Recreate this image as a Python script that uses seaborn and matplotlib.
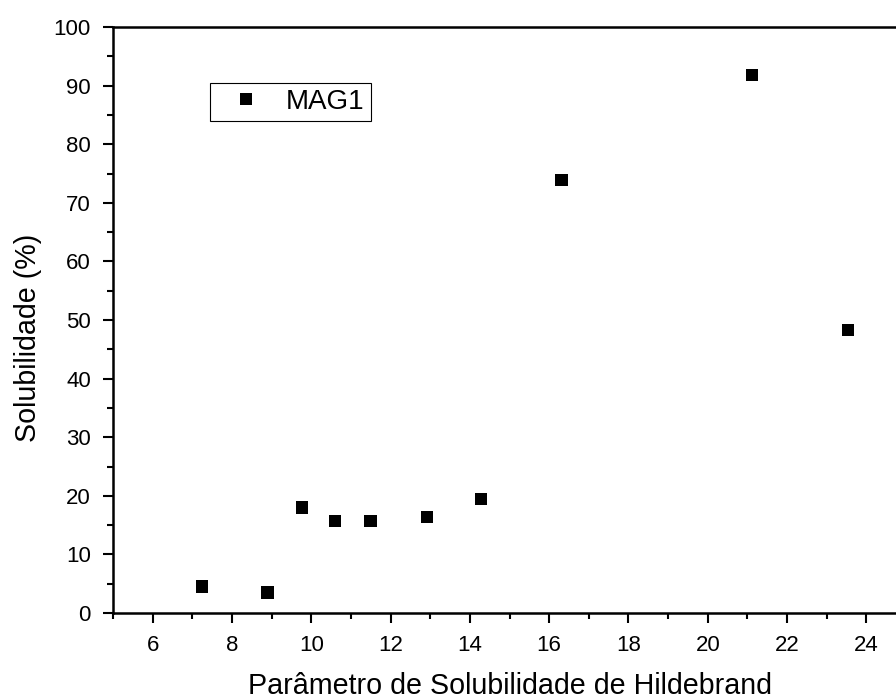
import matplotlib
matplotlib.use("Agg")
import matplotlib.pyplot as plt
import seaborn as sns
import pandas as pd
from matplotlib.ticker import MultipleLocator

hildebrand = [7.24, 8.9, 9.76, 10.6, 11.49, 12.92, 14.28, 16.31, 21.12, 23.53]
solubilidade = [4.5, 3.5, 18.0, 15.7, 15.7, 16.4, 19.5, 73.9, 91.8, 48.3]
series = ["MAG1"] * len(hildebrand)

df = pd.DataFrame({"x": hildebrand, "y": solubilidade, "serie": series})

sns.set_style("ticks")
plt.rcParams['font.family'] = ['Liberation Sans', 'DejaVu Sans']
plt.rcParams['text.color'] = 'black'
plt.rcParams['axes.labelcolor'] = 'black'
plt.rcParams['xtick.color'] = 'black'
plt.rcParams['ytick.color'] = 'black'

fig = plt.figure(figsize=(8.96, 6.99), dpi=100)
ax = fig.add_axes([113/896, 86/699, (906-113)/896, (613-27)/699])

sns.scatterplot(data=df, x="x", y="y", hue="serie", palette=["black"],
                marker="s", s=80, linewidth=0, ax=ax)

ax.set_xlim(5, 25)
ax.set_ylim(0, 100)
ax.xaxis.set_major_locator(MultipleLocator(2))
ax.xaxis.set_minor_locator(MultipleLocator(1))
ax.yaxis.set_major_locator(MultipleLocator(10))
ax.yaxis.set_minor_locator(MultipleLocator(5))
ax.tick_params(which="major", direction="out", length=7, width=1.5, labelsize=16,
               colors="black", labelcolor="black")
ax.tick_params(axis="x", which="major", pad=9)
ax.tick_params(axis="y", which="major", pad=9)
ax.tick_params(which="minor", direction="out", length=4, width=1.5, colors="black")
ax.tick_params(top=False, right=False)
for s in ax.spines.values():
    s.set_linewidth(1.8)
    s.set_color("black")

ax.set_xlabel("Parâmetro de Solubilidade de Hildebrand", fontsize=20.6, labelpad=11.5, color="black")
ax.set_ylabel("Solubilidade (%)", fontsize=20.6, labelpad=8.5, color="black")
ax.yaxis.label.set_y(0.469)

leg = ax.legend(loc="upper left", bbox_to_anchor=(0.122, 0.905), fontsize=20,
                frameon=True, fancybox=False, edgecolor="black", framealpha=1,
                handlelength=2.2, handletextpad=0.33, borderpad=0.22,
                markerscale=0.9, borderaxespad=0, labelcolor="black")
leg.get_frame().set_linewidth(0.8)
for h in leg.legend_handles:
    h.set_color("black")
leg.set_title(None)

fig.savefig("out.png", dpi=100)
